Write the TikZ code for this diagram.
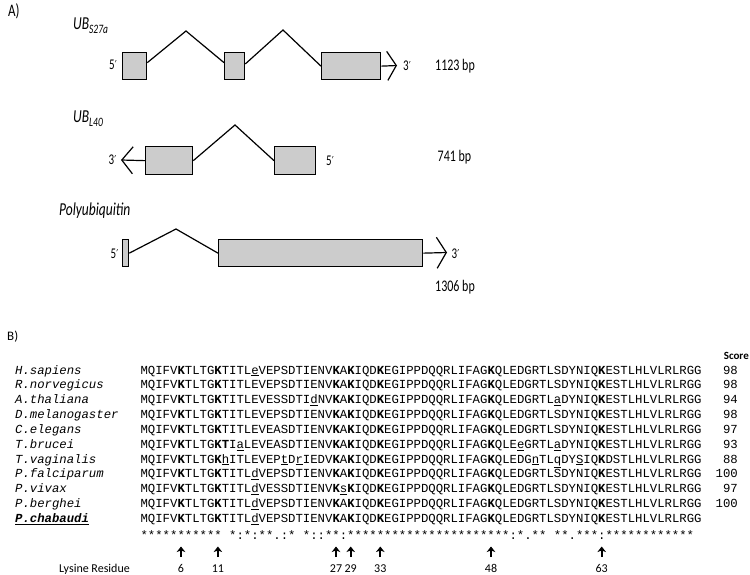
\documentclass[tikz,border=0pt]{standalone}
\usepackage{fontspec}
\setmainfont{Carlito}
\setmonofont{Liberation Mono}
\newfontfamily\primefont{DejaVu Sans}
\usepackage{graphicx}
\usetikzlibrary{arrows.meta}
\newcommand{\kk}{\textbf{K}}
\newcommand{\uu}[1]{\underline{#1}}
\newcommand{\tallA}[1]{\scalebox{1}[1.35]{#1}}
\newcommand{\pr}{{\primefont\fontsize{9}{9}\selectfont ′}}
\begin{document}
\begin{tikzpicture}[x=1pt,y=-1pt,
  exon/.style={draw, line width=1.3pt, fill=black!20, anchor=north west, inner sep=0pt, minimum height=27pt},
  intron/.style={line width=1.2pt, line join=miter},
  strand/.style={line width=1.2pt, -{Straight Barb[length=9pt,width=29pt]}},
  lblA/.style={inner sep=0pt, font=\fontsize{11}{12}\selectfont},
  bpA/.style={inner sep=0pt, font=\fontsize{12}{13}\selectfont},
  gname/.style={inner sep=0pt, anchor=base west, font=\itshape\fontsize{13.5}{15}\selectfont},
  panel/.style={inner sep=0pt, anchor=base west, font=\fontsize{13}{14}\selectfont},
  sp/.style={inner sep=0pt, anchor=base west, font=\fontsize{12.3}{14}\selectfont\ttfamily\itshape},
  sq/.style={inner sep=0pt, anchor=base west, font=\fontsize{12.3}{14}\selectfont\ttfamily},
  sc/.style={inner sep=0pt, anchor=base east, font=\fontsize{12.3}{14}\selectfont\ttfamily},
  lnum/.style={inner sep=0pt, anchor=base, font=\fontsize{12}{13}\selectfont},
  lys/.style={line width=1.8pt, -{Stealth[length=5.5pt,width=8.5pt,inset=1.5pt]}}
]
\useasboundingbox (0,0) rectangle (750,575);

% ---------------- Panel A ----------------
\node[panel] (labA) at (8,17) {\tallA{A)}};

% UB S27a
\node[gname] (g1) at (73,30) {\tallA{UB\raisebox{-0.45ex}{\fontsize{9.5}{10}\selectfont S27a}}};
\node[exon, minimum width=24pt] (e1) at (122,52) {};
\node[exon, minimum width=20pt] (e2) at (224,52) {};
\node[exon, minimum width=59pt] (e3) at (321,52) {};
\coordinate (p1) at (186,31);
\coordinate (p2) at (283,30);
\draw[intron] ([yshift=3.5pt]e1.east) -- (p1) -- ([yshift=3.5pt]e2.west);
\draw[intron] ([yshift=2.2pt]e2.east) -- (p2) -- (e3.west);
\coordinate (t1) at (397,65.5);
\draw[strand] (e3.east) -- (t1);
\node[lblA] (f1) at (113,65) {\tallA{5\pr}};
\node[lblA] (r1) at (407,66) {\tallA{3\pr}};
\node[bpA] (bp1) at (455,66) {\tallA{1123 bp}};

% UB L40
\node[gname] (g2) at (73,123) {\tallA{UB\raisebox{-0.45ex}{\fontsize{9.5}{10}\selectfont L40}}};
\node[exon, minimum width=47pt, minimum height=28pt] (e4) at (145,146) {};
\node[exon, minimum width=41pt, minimum height=28pt] (e5) at (274,146) {};
\coordinate (p3) at (235,125);
\draw[intron] (e4.east) -- (p3) -- (e5.west);
\coordinate (t2) at (121,160);
\draw[line width=1.2pt, -{Straight Barb[length=11pt,width=27pt]}] (e4.west) -- (t2);
\node[lblA] (r2) at (112.5,160) {\tallA{3\pr}};
\node[lblA] (f2) at (330,161) {\tallA{5\pr}};
\node[bpA] (bp2) at (454.5,157) {\tallA{741 bp}};

% Polyubiquitin
\node[gname] (g3) at (59,215) {\tallA{Polyubiquitin}};
\node[exon, minimum width=6pt] (e6) at (122,239) {};
\node[exon, minimum width=204pt] (e7) at (218,239) {};
\coordinate (p4) at (176,229);
\draw[intron] (e6.east) -- (p4) -- (e7.west);
\coordinate (t3) at (447,252.5);
\draw[line width=1.2pt, -{Straight Barb[length=9.5pt,width=31pt]}] (e7.east) -- (t3);
\node[lblA] (f3) at (114.5,254) {\tallA{5\pr}};
\node[lblA] (r3) at (455.5,254) {\tallA{3\pr}};
\node[bpA] (bp3) at (455,287) {\tallA{1306 bp}};

% ---------------- Panel B ----------------
\node[panel] (labB) at (7,340) {B)};
\node[inner sep=0pt, anchor=base east, font=\bfseries\fontsize{11}{12}\selectfont] (score) at (749,359) {Score};

\node[sp] (s1) at (15,374) {H.sapiens};
\node[sp] (s2) at (15,388.85) {R.norvegicus};
\node[sp] (s3) at (15,403.7) {A.thaliana};
\node[sp] (s4) at (15,418.55) {D.melanogaster};
\node[sp] (s5) at (15,433.4) {C.elegans};
\node[sp] (s6) at (15,448.25) {T.brucei};
\node[sp] (s7) at (15,463.1) {T.vaginalis};
\node[sp] (s8) at (15,477.95) {P.falciparum};
\node[sp] (s9) at (15,492.8) {P.vivax};
\node[sp] (s10) at (15,507.65) {P.berghei};
\node[sp] (s11) at (15,522.5) {\underline{\textbf{P.chabaudi}}};

\node[sq] (q1) at (140.4,374) {MQIFV\kk TLTG\kk TITL\uu{e}VEPSDTIENV\kk A\kk IQD\kk EGIPPDQQRLIFAG\kk QLEDGRTLSDYNIQ\kk ESTLHLVLRLRGG};
\node[sq] (q2) at (140.4,388.85) {MQIFV\kk TLTG\kk TITLEVEPSDTIENV\kk A\kk IQD\kk EGIPPDQQRLIFAG\kk QLEDGRTLSDYNIQ\kk ESTLHLVLRLRGG};
\node[sq] (q3) at (140.4,403.7) {MQIFV\kk TLTG\kk TITLEVESSDTI\uu{d}NV\kk A\kk IQD\kk EGIPPDQQRLIFAG\kk QLEDGRTL\uu{a}DYNIQ\kk ESTLHLVLRLRGG};
\node[sq] (q4) at (140.4,418.55) {MQIFV\kk TLTG\kk TITLEVEPSDTIENV\kk A\kk IQD\kk EGIPPDQQRLIFAG\kk QLEDGRTLSDYNIQ\kk ESTLHLVLRLRGG};
\node[sq] (q5) at (140.4,433.4) {MQIFV\kk TLTG\kk TITLEVEASDTIENV\kk A\kk IQD\kk EGIPPDQQRLIFAG\kk QLEDGRTLSDYNIQ\kk ESTLHLVLRLRGG};
\node[sq] (q6) at (140.4,448.25) {MQIFV\kk TLTG\kk\textbf{T}I\uu{a}LEVEASDTIENV\kk A\kk IQD\kk EGIPPDQQRLIFAG\kk QLE\uu{e}GRTL\uu{a}DYNIQ\kk ESTLHLVLRLRGG};
\node[sq] (q7) at (140.4,463.1) {MQIFV\kk TLTG\kk\uu{h}ITLEVEP\uu{t}D\uu{r}IEDV\kk A\kk IQD\kk EGIPPDQQRLIFAG\kk QLEDG\uu{n}TL\uu{q}DY\uu{S}IQ\kk DSTLHLVLRLRGG};
\node[sq] (q8) at (140.4,477.95) {MQIFV\kk TLTG\kk TITL\uu{d}VEPSDTIENV\kk A\kk IQD\kk EGIPPDQQRLIFAG\kk QLEDGRTLSDYNIQ\kk ESTLHLVLRLRGG};
\node[sq] (q9) at (140.4,492.8) {MQIFV\kk TLTG\kk TITL\uu{d}VESSDTIENV\kk\uu{s}\kk IQD\kk EGIPPDQQRLIFAG\kk QLEDGRTLSDYNIQ\kk ESTLHLVLRLRGG};
\node[sq] (q10) at (140.4,507.65) {MQIFV\kk TLTG\kk TITL\uu{d}VEPSDTIENV\kk A\kk IQD\kk EGIPPDQQRLIFAG\kk QLEDGRTLSDYNIQ\kk ESTLHLVLRLRGG};
\node[sq] (q11) at (140.4,522.5) {MQIFV\kk TLTG\kk TITL\uu{d}VEPSDTIENV\kk A\kk IQD\kk EGIPPDQQRLIFAG\kk QLEDGRTLSDYNIQ\kk ESTLHLVLRLRGG};
\node[sq] (cons) at (140.4,539) {***********~*:*:**.:*~*::**:**********************:*.**~**.***:************};

\node[sc] (c1) at (738,374) {98};
\node[sc] (c2) at (738,388.85) {98};
\node[sc] (c3) at (738,403.7) {94};
\node[sc] (c4) at (738,418.55) {98};
\node[sc] (c5) at (738,433.4) {97};
\node[sc] (c6) at (738,448.25) {93};
\node[sc] (c7) at (738,463.1) {88};
\node[sc] (c8) at (738,477.95) {100};
\node[sc] (c9) at (738,492.8) {97};
\node[sc] (c10) at (738,507.65) {100};

% Lysine residues
\node[inner sep=0pt, anchor=base east, font=\fontsize{12}{13}\selectfont] (lys) at (130,572) {Lysine Residue};
\foreach \n/\x in {6/181.0, 11/217.9, 27/336.0, 29/350.7, 33/380.3, 48/491.0, 63/601.7} {
  \node[lnum] (n\n) at (\x,572) {\n};
  \coordinate (b\n) at (\x,557);
  \coordinate (a\n) at (\x,546.5);
  \draw[lys] (b\n) -- (a\n);
}
\end{tikzpicture}
\end{document}
